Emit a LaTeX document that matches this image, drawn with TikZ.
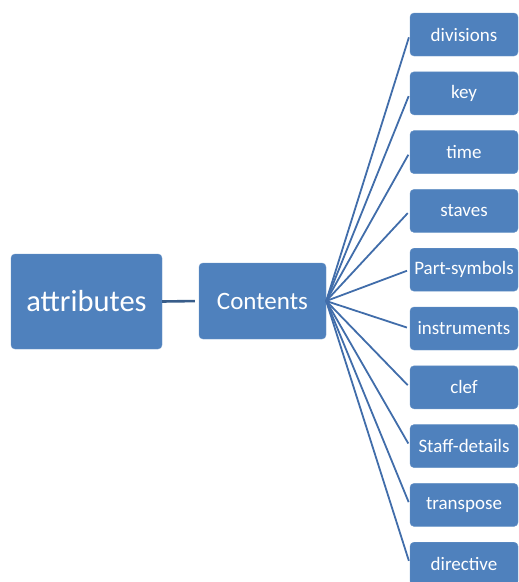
\documentclass[tikz,border=0pt]{standalone}
\usepackage{fontspec}
\setmainfont{Carlito}
\usepackage{tikz}

\definecolor{boxblue}{HTML}{4F81BD}
\definecolor{edgeblue}{HTML}{385D8A}
\definecolor{lineblue}{HTML}{416DAA}

\tikzset{
  box/.style={draw=boxblue!85!white,fill=boxblue,rounded corners=4pt,text=white,inner sep=0pt},
  leaf/.style={box,minimum width=108pt,minimum height=43pt,font=\fontsize{19}{21}\selectfont},
  spoke/.style={lineblue,line width=1.8pt,shorten >=3pt}
}

\begin{document}
\begin{tikzpicture}[x=1pt,y=-1pt] %attributes tree
  \useasboundingbox (0,0) rectangle (519,582);
  \clip (0,0) rectangle (519,582);
  \node[box,minimum width=151pt,minimum height=95pt,font=\fontsize{30.5}{34}\selectfont] (attr) at (86.5,301.5) {attributes};
  \node[box,minimum width=127pt,minimum height=76pt,font=\fontsize{25}{28}\selectfont] (cont) at (262.5,301) {Contents};
  \draw[edgeblue,line width=2.6pt,shorten >=4pt] (attr.east) -- (cont.west);
  % right column, one box every 58.8pt
  \node[leaf] (div)  at (464,34.5)  {divisions};
  \node[leaf] (key)  at (464,93.3)  {key};
  \node[leaf] (time) at (464,152.1) {time};
  \node[leaf] (stav) at (464,210.9) {staves};
  \node[leaf] (part) at (464,269.7) {Part-symbols};
  \node[leaf] (inst) at (464,328.5) {instruments};
  \node[leaf] (clef) at (464,387.3) {clef};
  \node[leaf] (sdet) at (464,446.1) {Staff-details};
  \node[leaf] (tran) at (464,504.9) {transpose};
  \node[leaf] (dirc) at (464,563.7) {directive};
  \draw[spoke] (cont.east) -- (div.west);
  \draw[spoke] (cont.east) -- (key.west);
  \draw[spoke] (cont.east) -- (time.west);
  \draw[spoke] (cont.east) -- (stav.west);
  \draw[spoke] (cont.east) -- (part.west);
  \draw[spoke] (cont.east) -- (inst.west);
  \draw[spoke] (cont.east) -- (clef.west);
  \draw[spoke] (cont.east) -- (sdet.west);
  \draw[spoke] (cont.east) -- (tran.west);
  \draw[spoke] (cont.east) -- (dirc.west);
\end{tikzpicture}
\end{document}
